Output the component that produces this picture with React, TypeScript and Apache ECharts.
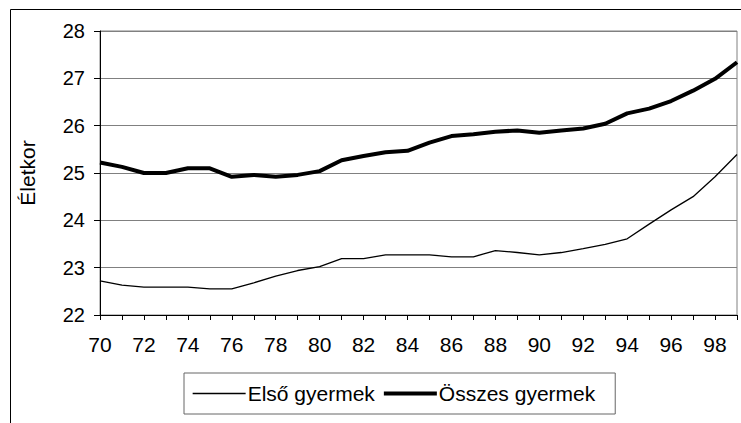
import React, { useEffect, useRef } from "react";
import * as echarts from "echarts";

const years: string[] = [
  "70", "71", "72", "73", "74", "75", "76", "77", "78", "79",
  "80", "81", "82", "83", "84", "85", "86", "87", "88", "89",
  "90", "91", "92", "93", "94", "95", "96", "97", "98", "99",
];

const elsoGyermek: number[] = [
  22.72, 22.63, 22.59, 22.59, 22.59, 22.55, 22.55, 22.68, 22.82, 22.94,
  23.02, 23.19, 23.19, 23.27, 23.27, 23.27, 23.23, 23.23, 23.36, 23.32,
  23.27, 23.32, 23.4, 23.49, 23.61, 23.92, 24.22, 24.5, 24.92, 25.39,
];

const osszesGyermek: number[] = [
  25.22, 25.13, 25.0, 25.0, 25.1, 25.1, 24.92, 24.96, 24.92, 24.96,
  25.04, 25.27, 25.36, 25.44, 25.47, 25.64, 25.78, 25.82, 25.87, 25.9,
  25.85, 25.9, 25.94, 26.04, 26.26, 26.36, 26.52, 26.74, 26.99, 27.34,
];

const seriesNames: string[] = ["Első gyermek", "Összes gyermek"];
const yAxisName = "Életkor";

const FONT = "'Liberation Sans', Arial, sans-serif";
const THIN = 1.3;
const THICK = 4;

export default function App() {
  const ref = useRef<HTMLDivElement>(null);

  useEffect(() => {
    if (!ref.current) return;
    const chart = echarts.init(ref.current, undefined, { renderer: "svg" });
    chart.setOption({
      animation: false,
      backgroundColor: "#ffffff",
      textStyle: { fontFamily: FONT, color: "#000" },
      graphic: [
        {
          type: "rect",
          shape: { x: 10.5, y: 9.5, width: 900, height: 600 },
          style: { fill: "none", stroke: "#000", lineWidth: 1 },
          silent: true,
          z: -1,
        },
      ],
      grid: {
        left: 100,
        top: 31,
        right: 4,
        bottom: 108,
        show: true,
        borderColor: "#808080",
        borderWidth: 1,
        backgroundColor: "transparent",
      },
      legend: {
        left: 184,
        top: 373,
        orient: "horizontal",
        itemWidth: 53,
        itemHeight: 14,
        itemGap: 7,
        padding: [10, 20, 10, 8],
        borderColor: "#666",
        borderWidth: 1,
        backgroundColor: "#fff",
        itemStyle: { opacity: 0, borderWidth: 0 },
        textStyle: { fontFamily: FONT, fontSize: 21, color: "#000", padding: [0, 0, 0, -3] },
        data: [
          { name: seriesNames[0], lineStyle: { width: THIN, color: "#000" }, itemStyle: { opacity: 0 } },
          { name: seriesNames[1], lineStyle: { width: THICK, color: "#000" }, itemStyle: { opacity: 0 } },
        ],
      },
      xAxis: {
        type: "category",
        data: years,
        boundaryGap: false,
        axisLine: { show: true, lineStyle: { color: "#000", width: 1 } },
        axisTick: { show: true, interval: 0, length: 5, inside: false, lineStyle: { color: "#000" } },
        axisLabel: { interval: 1, margin: 19, fontSize: 21, fontFamily: FONT, color: "#000" },
        splitLine: { show: false },
      },
      yAxis: {
        type: "value",
        min: 22,
        max: 28,
        interval: 1,
        name: yAxisName,
        nameLocation: "middle",
        nameRotate: 90,
        nameGap: 62,
        nameTextStyle: { fontSize: 21, fontFamily: FONT, color: "#000" },
        axisLine: { show: true, lineStyle: { color: "#000", width: 1 } },
        axisTick: { show: true, length: 6, lineStyle: { color: "#000" } },
        axisLabel: { margin: 15, fontSize: 20, fontFamily: FONT, color: "#000" },
        splitLine: { show: true, lineStyle: { color: "#808080", width: 1 } },
      },
      series: [
        {
          name: seriesNames[0],
          type: "line",
          data: elsoGyermek,
          symbol: "none",
          showSymbol: false,
          lineStyle: { color: "#000", width: THIN },
          itemStyle: { color: "#000" },
          z: 3,
        },
        {
          name: seriesNames[1],
          type: "line",
          data: osszesGyermek,
          symbol: "none",
          showSymbol: false,
          lineStyle: { color: "#000", width: THICK },
          itemStyle: { color: "#000" },
          z: 4,
        },
      ],
    });
    return () => chart.dispose();
  }, []);

  return <div ref={ref} style={{ width: 741, height: 423, position: "absolute", left: 0, top: 0 }} />;
}
